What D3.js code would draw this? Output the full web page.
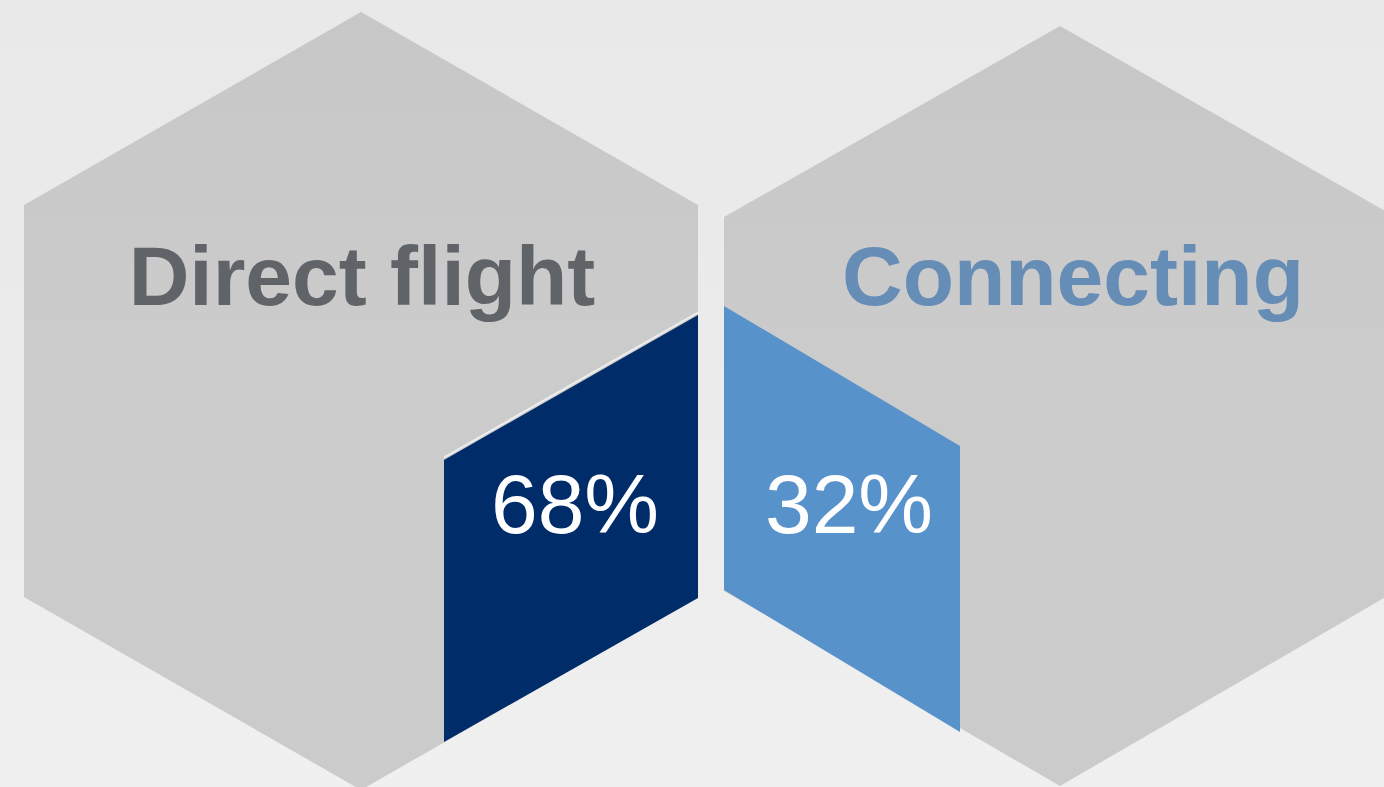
<!DOCTYPE html>
<html>
<head>
<meta charset="utf-8">
<script src="https://cdn.jsdelivr.net/npm/d3@7/dist/d3.min.js"></script>
<style>
  html, body { margin: 0; padding: 0; background: #ececec; }
  svg { display: block; }
</style>
</head>
<body>
<svg id="chart" width="1384" height="787"></svg>
<script>
// ---- data ----
const categories = ["Direct flight", "Connecting"];
const shares = [68, 32];
const seriesColors = ["#002c6a", "#5892ca"];
const titleColors = ["#606368", "#658db6"];

// ---- layout ----
const W = 1384, H = 787;
const svg = d3.select("#chart");
const defs = svg.append("defs");

const bg = defs.append("linearGradient").attr("id", "bg").attr("x1", 0).attr("y1", 0).attr("x2", 0).attr("y2", 1);
bg.append("stop").attr("offset", "0%").attr("stop-color", "#e9e9e9");
bg.append("stop").attr("offset", "45%").attr("stop-color", "#ebebeb");
bg.append("stop").attr("offset", "100%").attr("stop-color", "#f0f0f0");

const hg = defs.append("linearGradient").attr("id", "hexfill").attr("x1", 0).attr("y1", 0).attr("x2", 0).attr("y2", 1);
hg.append("stop").attr("offset", "0%").attr("stop-color", "#c7c7c7");
hg.append("stop").attr("offset", "40%").attr("stop-color", "#cbcbcb");
hg.append("stop").attr("offset", "100%").attr("stop-color", "#cbcbcb");

svg.append("rect").attr("width", W).attr("height", H).attr("fill", "url(#bg)");

// hexagon geometry per category
const hexes = [
  { cx: 361, hw: 337, top: 12, sTop: 205, sBot: 597, bot: 790 },
  { cx: 1060, hw: 336, top: 26, sTop: 217, sBot: 591, bot: 786 }
];
// inner parallelograms (decorative, coloured by series)
const panels = [
  { x0: 444, x1: 698, y0t: 460, y0b: 742, y1t: 315, y1b: 598 },
  { x0: 724, x1: 960, y0t: 306, y0b: 590, y1t: 446, y1b: 732 }
];
const labelX = [362, 1073];
const pctX = [575, 849];

const line = d3.line().curve(d3.curveLinearClosed);
const fmt = d => d3.format("d")(d) + "%";

categories.forEach((cat, i) => {
  const h = hexes[i];
  const pts = [
    [h.cx, h.top], [h.cx + h.hw, h.sTop], [h.cx + h.hw, h.sBot],
    [h.cx, h.bot], [h.cx - h.hw, h.sBot], [h.cx - h.hw, h.sTop]
  ];
  svg.append("path").attr("d", line(pts)).attr("fill", "url(#hexfill)");
});

categories.forEach((cat, i) => {
  const p = panels[i];
  const pts = [[p.x0, p.y0t], [p.x1, p.y1t], [p.x1, p.y1b], [p.x0, p.y0b]];
  svg.append("path").attr("d", line(pts)).attr("fill", seriesColors[i]);
  if (i === 0) {
    svg.append("line")
      .attr("x1", p.x0).attr("y1", p.y0t - 2.5)
      .attr("x2", p.x1).attr("y2", p.y1t - 2.5)
      .attr("stroke", "#efefef").attr("stroke-width", 2);
  }
  svg.append("text")
    .attr("x", labelX[i]).attr("y", 305)
    .attr("text-anchor", "middle")
    .attr("font-family", "'Liberation Sans', Arial, sans-serif")
    .attr("font-weight", "bold")
    .attr("font-size", 84)
    .attr("fill", titleColors[i])
    .text(cat);
  svg.append("text")
    .attr("x", pctX[i]).attr("y", 533)
    .attr("text-anchor", "middle")
    .attr("font-family", "'Liberation Sans', Arial, sans-serif")
    .attr("font-size", 84)
    .attr("fill", "#ffffff")
    .text(fmt(shares[i]));
});
</script>
</body>
</html>
